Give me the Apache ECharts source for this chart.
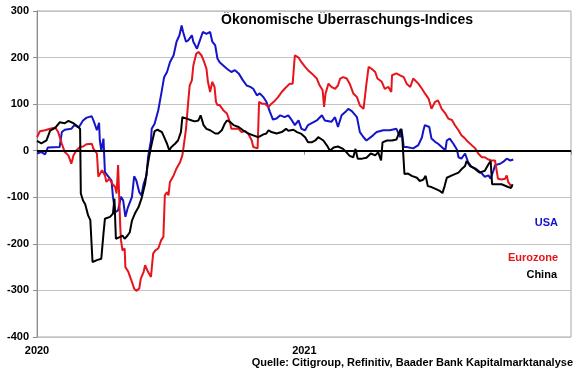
<!DOCTYPE html>
<html>
<head>
<meta charset="utf-8">
<script src="https://cdn.jsdelivr.net/npm/echarts@6/dist/echarts.min.js"></script>
<style>html,body{margin:0;padding:0;background:#fff}#c{width:580px;height:375px}</style>
</head>
<body>
<div id="c"></div>
<script>
// x = days since 2020-01-01, y = index value
var yearLabels = {0: '2020', 366: '2021'};
var seriesNames = ['USA', 'Eurozone', 'China'];
var usa = [[0,-6],[6,-3],[11,-8],[15,7],[31,8],[34,40],[38,45],[47,47],[51,55],[57,50],[63,65],[68,71],[75,74],[78,62],[82,44],[85,60],[86,22],[88,1],[91,26],[93,-46],[98,-56],[102,-64],[104,-99],[107,-132],[111,-128],[115,-99],[118,-107],[121,-142],[124,-124],[130,-99],[133,-55],[136,-64],[140,-89],[143,-96],[146,-71],[150,-53],[152,-14],[156,22],[157,47],[161,58],[166,87],[171,130],[174,158],[178,169],[182,190],[187,205],[191,234],[195,248],[198,269],[200,255],[204,234],[207,237],[212,248],[214,234],[219,219],[223,237],[227,255],[232,251],[237,255],[240,234],[244,226],[247,198],[250,190],[255,183],[260,176],[266,169],[271,173],[276,166],[282,151],[287,140],[292,137],[296,133],[301,119],[305,123],[310,115],[314,105],[319,83],[323,67],[328,69],[333,76],[339,72],[344,76],[349,65],[353,55],[358,65],[362,47],[367,44],[371,55],[383,65],[390,76],[394,65],[403,62],[408,72],[412,51],[417,76],[422,83],[426,90],[431,85],[438,72],[442,40],[447,29],[451,22],[460,33],[465,40],[474,44],[483,44],[492,47],[497,29],[499,47],[502,8],[506,8],[508,9],[515,5],[522,12],[527,29],[529,44],[531,55],[537,51],[540,26],[545,19],[549,15],[554,8],[559,1],[561,22],[565,26],[570,15],[575,2],[577,-14],[581,-17],[586,-6],[590,-24],[595,-35],[600,-38],[609,-49],[613,-56],[618,-53],[621,-60],[625,-42],[627,-31],[634,-28],[638,-24],[643,-17],[648,-21],[652,-19]];
var eurozone = [[0,29],[4,42],[11,44],[18,47],[25,50],[29,40],[34,15],[38,-3],[43,-10],[47,-28],[50,-10],[54,1],[59,8],[63,9],[68,14],[75,15],[77,5],[82,-6],[84,-56],[89,-42],[93,-53],[95,-67],[99,-60],[103,-71],[107,-78],[109,-92],[111,-31],[114,-164],[115,-192],[117,-214],[120,-210],[121,-250],[125,-260],[130,-282],[133,-296],[136,-301],[140,-296],[142,-275],[146,-260],[148,-246],[152,-260],[156,-271],[159,-221],[162,-214],[166,-210],[170,-192],[173,-185],[175,-96],[178,-89],[180,-96],[182,-67],[187,-53],[191,-38],[196,-24],[199,-10],[201,12],[204,47],[207,105],[209,140],[212,151],[214,183],[218,208],[221,212],[225,205],[228,194],[232,176],[234,148],[237,126],[240,148],[243,137],[245,105],[247,98],[250,98],[255,87],[260,80],[264,62],[266,47],[271,47],[276,47],[280,40],[285,42],[289,37],[294,22],[296,8],[298,12],[302,5],[304,105],[308,101],[312,101],[317,94],[321,101],[326,108],[330,115],[335,126],[339,133],[346,144],[350,144],[353,205],[358,200],[362,190],[367,180],[371,173],[376,166],[383,155],[387,140],[391,130],[393,94],[395,123],[399,144],[403,137],[408,133],[412,140],[415,155],[419,158],[424,155],[428,144],[433,123],[438,115],[442,97],[447,90],[449,87],[451,144],[454,180],[458,176],[463,169],[466,155],[472,148],[476,133],[481,137],[485,126],[486,162],[492,166],[497,162],[502,158],[506,144],[511,137],[515,155],[517,155],[522,144],[527,133],[531,123],[536,112],[540,90],[545,105],[549,108],[554,90],[559,80],[563,69],[568,66],[572,55],[577,44],[581,33],[586,26],[590,19],[595,12],[600,5],[604,-6],[609,-14],[613,-14],[618,-19],[622,-21],[627,-21],[629,-24],[631,-60],[636,-62],[641,-60],[643,-53],[645,-67],[648,-74],[651,-77]];
var china = [[0,21],[6,16],[13,22],[18,43],[25,49],[31,61],[38,59],[43,64],[50,59],[54,54],[59,47],[60,-92],[63,-107],[66,-115],[70,-139],[73,-149],[75,-152],[76,-239],[82,-235],[88,-232],[91,-178],[93,-146],[100,-142],[104,-135],[106,-103],[108,-189],[114,-185],[117,-182],[120,-189],[124,-182],[127,-175],[130,-150],[134,-135],[139,-121],[143,-103],[148,-71],[151,-35],[155,0],[158,22],[161,42],[165,45],[171,40],[173,33],[178,15],[181,1],[184,8],[189,15],[193,22],[197,40],[199,72],[205,69],[212,65],[216,63],[221,65],[224,76],[228,55],[232,47],[237,44],[244,37],[248,37],[253,44],[257,58],[260,65],[264,62],[269,55],[276,51],[282,44],[289,37],[296,33],[303,29],[310,35],[314,37],[317,44],[321,40],[328,37],[335,40],[341,47],[344,43],[351,45],[356,40],[362,36],[367,29],[371,18],[376,18],[381,22],[385,29],[387,27],[392,22],[397,11],[401,0],[406,7],[412,9],[419,4],[424,-4],[428,-11],[433,-14],[436,4],[439,-17],[445,-17],[451,-15],[457,-6],[463,-10],[467,-3],[471,-21],[473,18],[479,22],[486,22],[492,24],[496,40],[498,47],[500,30],[503,-50],[508,-49],[513,-54],[520,-58],[524,-65],[529,-62],[532,-54],[535,-76],[540,-78],[547,-83],[552,-87],[555,-91],[558,-76],[561,-58],[568,-53],[577,-47],[581,-40],[586,-33],[588,-22],[590,-18],[593,-33],[597,-36],[606,-47],[613,-43],[618,-29],[621,-22],[623,-72],[636,-72],[645,-78],[649,-80],[651,-72]];

var colors = ['#1414c8', '#e6141b', '#000000'];
var FONT = '"Liberation Sans", Arial, sans-serif';
var chart = echarts.init(document.getElementById('c'), null, {renderer: 'canvas'});
function mkSeries(name, data, color, extra) {
  var s = {
    name: name, type: 'line', data: data, symbol: 'none', animation: false,
    lineStyle: {color: color, width: 2}, itemStyle: {color: color}
  };
  if (extra) for (var k in extra) s[k] = extra[k];
  return s;
}
chart.setOption({
  animation: false,
  grid: {left: 37, right: 9, top: 11, bottom: 38, show: true, borderColor: '#a6a6a6', borderWidth: 1},
  xAxis: {
    type: 'value', min: 0, max: 731, interval: 366,
    axisLine: {show: true, lineStyle: {color: '#8c8c8c', width: 1}},
    axisTick: {show: true, length: 4, lineStyle: {color: '#8c8c8c'}},
    splitLine: {show: false},
    axisLabel: {
      margin: 8, color: '#000', fontFamily: FONT, fontWeight: 'bold', fontSize: 11,
      formatter: function (v) { return yearLabels[v] || ''; }
    }
  },
  yAxis: {
    type: 'value', min: -400, max: 300, interval: 100,
    axisLine: {show: true, lineStyle: {color: '#8c8c8c', width: 1}},
    axisTick: {show: true, length: 4, lineStyle: {color: '#8c8c8c'}},
    splitLine: {show: true, lineStyle: {color: '#c4c4c4', width: 1}},
    axisLabel: {margin: 8, color: '#000', fontFamily: FONT, fontWeight: 'bold', fontSize: 11}
  },
  series: [
    mkSeries(seriesNames[0], usa, colors[0]),
    mkSeries(seriesNames[1], eurozone, colors[1]),
    mkSeries(seriesNames[2], china, colors[2], {
      markLine: {silent: true, symbol: 'none', label: {show: false}, animation: false,
        lineStyle: {color: '#000', width: 2, type: 'solid'}, data: [{yAxis: 0}]}
    })
  ],
  graphic: [
    {type: 'text', left: 349 - 128, top: 13, style: {text: 'Ökonomische Überraschungs-Indices', font: 'bold 14px ' + FONT, fill: '#000'}},
    {type: 'text', right: 22, top: 217, style: {text: seriesNames[0], font: 'bold 11px ' + FONT, fill: colors[0], align: 'right'}},
    {type: 'text', right: 22, top: 252, style: {text: seriesNames[1], font: 'bold 11px ' + FONT, fill: colors[1], align: 'right'}},
    {type: 'text', right: 23, top: 269, style: {text: seriesNames[2], font: 'bold 11px ' + FONT, fill: colors[2], align: 'right'}},
    {type: 'text', right: 7, top: 357, style: {text: 'Quelle: Citigroup, Refinitiv, Baader Bank Kapitalmarktanalyse', font: 'bold 11px ' + FONT, fill: '#000', align: 'right'}}
  ]
});
</script>
</body>
</html>
